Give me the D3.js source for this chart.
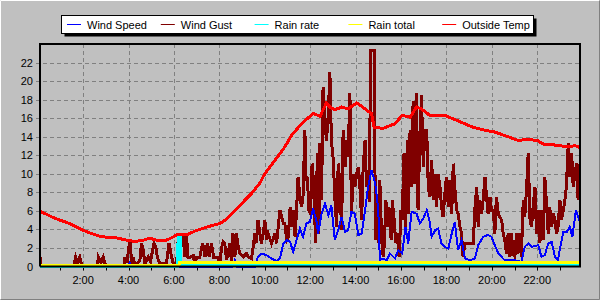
<!DOCTYPE html>
<html>
<head>
<meta charset="utf-8">
<script src="https://cdn.jsdelivr.net/npm/d3@7"></script>
<style>
  body { margin: 0; background: #c0c0c0; }
  svg { display: block; }
  text { font-family: "Liberation Sans", Arial, sans-serif; font-size: 11px; fill: #000; }
</style>
</head>
<body>
<svg id="chart" width="600" height="300"></svg>
<script>
// values, time in minutes after midnight
var seriesNames = ["Wind Speed", "Wind Gust", "Rain rate", "Rain total", "Outside Temp"];
var seriesColors = ["#0000ff", "#800000", "#00ffff", "#ffff00", "#ff0000"];
var hourLabels = ["2:00", "4:00", "6:00", "8:00", "10:00", "12:00", "14:00", "16:00", "18:00", "20:00", "22:00"];
var yTicks = [0, 2, 4, 6, 8, 10, 12, 14, 16, 18, 20, 22];

var outsideTemp = [
  [6, 5.97], [45, 5.2], [80, 4.7], [120, 3.9], [146, 3.5], [169, 3.2], [204, 3.13], [235, 2.84],
  [257, 2.7], [279, 2.84], [296, 3.05], [314, 2.84], [340, 2.84], [354, 3.1], [371, 3.5], [398, 3.5],
  [420, 3.9], [455, 4.35], [481, 4.63], [499, 5.1], [530, 6.43], [565, 7.87], [587, 9.0], [600, 10.0],
  [627, 11.47], [653, 12.9], [671, 14.16], [697, 15.4], [728, 16.5], [746, 16.2], [763, 17.65],
  [772, 17.2], [785, 16.9], [803, 17.2], [820, 17.0], [843, 17.65], [865, 17.0], [882, 16.5],
  [889, 15.0], [913, 14.9], [944, 15.4], [963, 16.3], [984, 16.1], [1001, 17.2], [1014, 17.0],
  [1036, 16.3], [1076, 16.3], [1102, 15.85], [1129, 15.4], [1151, 15.0], [1182, 14.7], [1208, 14.5],
  [1243, 14.0], [1269, 13.6], [1296, 13.7], [1320, 13.6], [1336, 13.2], [1367, 13.1], [1402, 12.9],
  [1420, 13.05], [1433, 12.8]
];

var windSpeed = [
  [6, 0], [238, 0], [243, 0.4], [248, 0], [515, 0], [521, 0.7], [527, 0], [574, 0], [582, 1.04],
  [591, 1.4], [605, 1.22], [618, 0.86], [631, 0.6], [640, 0.86], [649, 2.48], [658, 2.84], [667, 2.65],
  [675, 1.57], [684, 2.84], [693, 4.1], [701, 3.2], [710, 4.64], [719, 4.8], [728, 6.26], [737, 4.8],
  [741, 3.56], [750, 5.7], [759, 6.8], [768, 5.53], [776, 6.6], [785, 2.84], [794, 3.9], [803, 5.35],
  [812, 3.73], [820, 3.9], [829, 5.9], [838, 5.7], [847, 3.4], [856, 3.56], [865, 6.07], [873, 8.59],
  [882, 10.4], [892, 8.95], [900, 6.07], [904, 0.68], [913, 0.86], [922, 0.68], [931, 1.4], [944, 0.86],
  [953, 1.76], [963, 1.4], [972, 4.27], [979, 2.48], [988, 5.9], [1001, 5.7], [1010, 4.64], [1019, 5.18],
  [1028, 6.07], [1036, 4.8], [1041, 3.2], [1050, 3.9], [1058, 4.1], [1067, 2.48], [1076, 2.12],
  [1085, 1.94], [1094, 3.56], [1102, 4.8], [1111, 1.76], [1120, 2.84], [1129, 0.86], [1142, 0.68],
  [1155, 0.86], [1164, 2.3], [1177, 3.2], [1190, 3.4], [1199, 3.2], [1208, 2.3], [1217, 1.4],
  [1234, 0.68], [1261, 0.68], [1278, 0.5], [1287, 2.12], [1296, 2.48], [1305, 2.12], [1323, 2.3],
  [1331, 1.04], [1340, 1.22], [1349, 2.48], [1358, 2.65], [1367, 1.04], [1375, 0.68], [1380, 1.94],
  [1389, 3.73], [1398, 3.73], [1406, 4.27], [1413, 3.2], [1422, 6.07], [1428, 5.35], [1433, 4.8]
];

var windGust = [
  [6, 1.0], [9, 0], [95, 0], [100, 1.0], [105, 0.4], [111, 1.0], [117, 0], [158, 0], [160, 1.0],
  [167, 0.4], [173, 1.0], [180, 0], [228, 0], [230, 1.0], [236, 0.4], [242, 2.5], [245, 2.5],
  [248, 0.3], [252, 1.0], [257, 0.1], [270, 0.68], [274, 2.5], [279, 1.76], [283, 0.3], [292, 1.0],
  [298, 0.5], [307, 2.5], [312, 2.1], [316, 1.0], [323, 0.3], [340, 0.3], [347, 2.5], [354, 1.0],
  [358, 0.3], [367, 0.3], [372, 3.4], [384, 3.4], [389, 1.0], [393, 3.4], [397, 1.0], [402, 1.0],
  [411, 1.2], [415, 0.3], [420, 1.0], [428, 1.0], [436, 2.5], [442, 1.0], [448, 2.5], [453, 1.0],
  [459, 2.5], [465, 1.0], [477, 1.0], [481, 0.3], [486, 2.1], [490, 2.65], [494, 2.5], [499, 0.68],
  [508, 2.5], [512, 0.3], [516, 3.56], [521, 1.04], [525, 3.56], [530, 2.1], [534, 1.4], [543, 1.04],
  [552, 1.4], [556, 1.04], [565, 0.86], [574, 3.56], [578, 2.5], [582, 5.0], [591, 2.5], [596, 3.56],
  [600, 5.0], [605, 2.84], [609, 3.56], [618, 2.5], [627, 3.56], [631, 2.5], [640, 6.07], [649, 4.64],
  [653, 4.64], [658, 2.84], [662, 3.2], [667, 6.43], [671, 4.27], [675, 6.07], [680, 3.2], [684, 6.07],
  [688, 9.67], [693, 7.5], [697, 6.43], [701, 7.5], [706, 14.7], [709, 9.3], [713, 9.67], [716, 6.07],
  [721, 5.7], [725, 11.1], [730, 8.59], [734, 2.5], [739, 12.2], [743, 3.56], [745, 13.3], [750, 7.15],
  [754, 19.4], [759, 15.8], [763, 13.6], [768, 16.5], [772, 21.0], [776, 13.6], [781, 11.5], [785, 7.5],
  [790, 4.27], [794, 11.1], [798, 9.3], [803, 3.9], [807, 14.7], [812, 10.7], [816, 13.6], [820, 11.8],
  [825, 18.7], [829, 5.7], [834, 10.0], [838, 8.6], [843, 10.0], [847, 10.75], [851, 8.95], [856, 5.0],
  [860, 10.75], [865, 13.6], [869, 8.6], [873, 10.0], [877, 7.0], [879, 23.3], [890, 23.3], [892, 2.84],
  [895, 5.0], [900, 2.5], [904, 9.3], [909, 2.84], [913, 1.0], [916, 2.5], [920, 7.15], [925, 4.27],
  [928, 6.43], [934, 2.84], [937, 7.15], [942, 5.0], [946, 2.5], [951, 3.56], [955, 1.0], [960, 6.07],
  [963, 5.0], [968, 12.2], [972, 4.27], [977, 13.6], [979, 5.7], [984, 14.7], [988, 8.6], [992, 17.9],
  [997, 8.95], [1001, 18.7], [1005, 6.07], [1010, 14.0], [1014, 18.5], [1019, 10.75], [1023, 14.7],
  [1028, 14.7], [1032, 8.6], [1036, 7.5], [1041, 11.5], [1045, 7.15], [1050, 10.0], [1054, 6.43],
  [1058, 10.0], [1063, 8.6], [1067, 6.43], [1071, 5.35], [1076, 7.87], [1080, 9.67], [1085, 6.43],
  [1089, 9.3], [1094, 5.7], [1098, 11.1], [1102, 8.6], [1107, 6.07], [1111, 5.7], [1116, 4.27],
  [1120, 3.56], [1124, 1.04], [1129, 2.5], [1151, 2.5], [1155, 6.07], [1160, 8.6], [1164, 4.27],
  [1168, 7.15], [1173, 5.7], [1177, 7.15], [1182, 9.67], [1186, 7.5], [1190, 5.7], [1195, 7.5],
  [1199, 6.07], [1204, 6.07], [1208, 3.56], [1212, 7.5], [1217, 5.7], [1221, 5.35], [1226, 5.0],
  [1230, 3.56], [1234, 2.84], [1239, 1.4], [1243, 3.56], [1248, 1.04], [1252, 3.56], [1256, 1.4],
  [1261, 1.04], [1265, 3.56], [1269, 1.4], [1274, 3.56], [1278, 1.04], [1283, 7.15], [1287, 5.35],
  [1292, 8.6], [1296, 12.2], [1301, 5.0], [1305, 4.27], [1309, 6.43], [1314, 8.6], [1318, 3.56],
  [1323, 6.07], [1327, 2.5], [1331, 6.07], [1336, 2.84], [1340, 9.67], [1345, 6.43], [1349, 3.56],
  [1353, 6.43], [1358, 4.27], [1362, 5.7], [1367, 5.0], [1371, 3.56], [1375, 4.27], [1380, 7.15],
  [1384, 5.0], [1389, 6.07], [1393, 7.15], [1397, 8.6], [1402, 13.3], [1406, 9.67], [1411, 12.2],
  [1415, 8.6], [1420, 10.0], [1424, 11.1], [1428, 7.15], [1433, 11.1]
];

var rainRate = [[6, 0], [370, 0], [371, 3.3], [377, 3.3], [378, 0.08], [1433, 0.08]];
var rainTotal = [[6, 0.1], [373, 0.1], [374, 0.4], [1433, 0.4]];

var svg = d3.select("#chart"),
    plotLeft = 40, plotRight = 580, plotTop = 44, plotBottom = 266.5;

var x = d3.scaleLinear().domain([6, 1433]).range([plotLeft, plotRight]);
var y = d3.scaleLinear().domain([0, 24]).range([plotBottom, plotTop]);

svg.append("rect").attr("width", 600).attr("height", 300).attr("fill", "#c0c0c0");
// 3d border of the picture
svg.append("path").attr("d", "M0.5,299.5V0.5H599.5").attr("fill", "none").attr("stroke", "#ffffff");
svg.append("path").attr("d", "M0.5,299.5H599.5V0.5").attr("fill", "none").attr("stroke", "#808080");

// grid
var grid = svg.append("g").attr("stroke", "#808080").attr("stroke-dasharray", "4,3");
grid.selectAll("line.h")
  .data(yTicks.filter(function(d) { return d > 0; }))
  .enter().append("line")
    .attr("x1", plotLeft - 4).attr("x2", plotRight)
    .attr("y1", function(d) { return Math.round(y(d)) + 0.5; })
    .attr("y2", function(d) { return Math.round(y(d)) + 0.5; });
grid.selectAll("line.v")
  .data(hourLabels)
  .enter().append("line")
    .attr("x1", function(d, i) { return Math.round(x((i + 1) * 120)) + 0.5; })
    .attr("x2", function(d, i) { return Math.round(x((i + 1) * 120)) + 0.5; })
    .attr("y1", plotTop).attr("y2", plotBottom + 4);

// minor ticks on the time axis
svg.append("g").selectAll("line")
  .data(d3.range(60, 1440, 60))
  .enter().append("line")
    .attr("x1", function(d) { return Math.round(x(d)) + 0.5; })
    .attr("x2", function(d) { return Math.round(x(d)) + 0.5; })
    .attr("y1", plotBottom).attr("y2", plotBottom + 4)
    .attr("stroke", "#000");

// tick labels
svg.append("g").selectAll("text")
  .data(yTicks)
  .enter().append("text")
    .attr("x", 33)
    .attr("y", function(d) { return y(d) + 4; })
    .attr("text-anchor", "end")
    .text(function(d) { return d; });

svg.append("g").selectAll("text")
  .data(hourLabels)
  .enter().append("text")
    .attr("x", function(d, i) { return x((i + 1) * 120); })
    .attr("y", 284)
    .attr("text-anchor", "middle")
    .text(function(d) { return d; });

var line = d3.line()
    .x(function(d) { return x(d[0]); })
    .y(function(d) { return y(d[1]); });

var plot = svg.append("g").attr("fill", "none")
    .attr("stroke-linejoin", "miter").attr("shape-rendering", "crispEdges");

plot.append("path").datum(windGust).attr("d", line)
    .attr("stroke", seriesColors[1]).attr("stroke-width", 3);
plot.append("path").datum(windSpeed).attr("d", line)
    .attr("stroke", seriesColors[0]).attr("stroke-width", 2);
plot.append("path").datum(rainRate).attr("d", line)
    .attr("stroke", seriesColors[2]).attr("stroke-width", 3);
plot.append("path").datum(rainTotal).attr("d", line)
    .attr("stroke", seriesColors[3]).attr("stroke-width", 3);
plot.append("path").datum(outsideTemp).attr("d", line)
    .attr("stroke", seriesColors[4]).attr("stroke-width", 3);

// frame
svg.append("path")
    .attr("d", "M" + plotLeft + "," + plotBottom + "V" + plotTop + "H" + plotRight + "V" + plotBottom + "H" + plotLeft)
    .attr("fill", "none").attr("stroke", "#000").attr("stroke-width", 2);

// legend
var lg = svg.append("g");
lg.append("rect").attr("x", 64.5).attr("y", 18.5).attr("width", 472).attr("height", 18).attr("fill", "#000");
lg.append("rect").attr("x", 61.5).attr("y", 15.5).attr("width", 472).attr("height", 18)
    .attr("fill", "#fff").attr("stroke", "#000");
var item = lg.selectAll("g.item")
  .data(seriesNames)
  .enter().append("g")
    .attr("transform", function(d, i) { return "translate(" + (67 + i * 93.8) + ",0)"; });
item.append("line")
    .attr("x1", 0).attr("x2", 14).attr("y1", 24.5).attr("y2", 24.5)
    .attr("stroke", function(d, i) { return seriesColors[i]; });
item.append("text")
    .attr("x", 20).attr("y", 28.5)
    .text(function(d) { return d; });
</script>
</body>
</html>
